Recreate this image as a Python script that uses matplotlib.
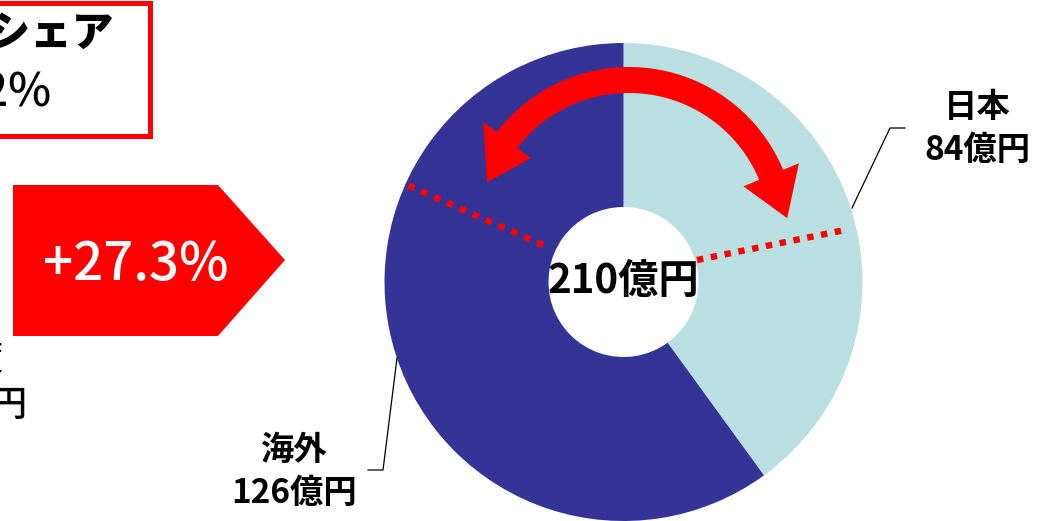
import numpy as np
import matplotlib
matplotlib.use("Agg")
import matplotlib.pyplot as plt
from matplotlib.patches import Polygon, Rectangle

# 売上構成（億円）
regions = ["日本", "海外"]
sales = [84, 126]
colors = ["#B9DFE3", "#343496"]
growth = "+27.3%"
share_title = "海外売上シェア"
share_value = "62%"
prev_lines = ["2019年度", "165億円"]

RED = "#FF0000"
W, H = 1046, 521

plt.rcParams["font.family"] = ["Noto Sans CJK JP", "DejaVu Sans"]


def Y(py):
    # 上から測った位置を下原点の座標へ
    return H - py


def P(c, r, a):
    t = np.deg2rad(a)
    return (c[0] + r * np.cos(t), c[1] + r * np.sin(t))


fig = plt.figure(figsize=(W / 100, H / 100), dpi=100)
ax = fig.add_axes([0, 0, 1, 1])

# ドーナツ
cx, cy, r_out, r_in = 623.5, Y(282), 239, 75
ax.pie(sales, colors=colors, startangle=90, counterclock=False,
       center=(cx, cy), radius=r_out,
       wedgeprops=dict(width=r_out - r_in, linewidth=0))
ax.set_xlim(0, W)
ax.set_ylim(0, H)
ax.set_aspect("auto")
ax.axis("off")

ax.text(cx, Y(281), f"{sum(sales)}億円", ha="center", va="center",
        fontsize=29, fontweight="bold", color="black")

# 赤い点線
for (x0, y0), (x1, y1) in [((697, 260), (845, 230)), ((543, 245), (407, 185))]:
    ax.plot([x0, x1], [Y(y0), Y(y1)], color=RED, lw=4.6, dashes=(1.0, 1.2))

# 両矢印の弧
ac = (629, Y(234))
R, w, hw = 154, 26, 30
a_l, a_r = 142.4, 22.6
pts = [P(ac, R - 3, 160), P(ac, R + hw, a_l), P(ac, R + w / 2, a_l)]
pts += [P(ac, R + w / 2, a) for a in np.linspace(a_l, a_r, 100)]
pts += [P(ac, R + hw, a_r), P(ac, R + 5, 5.7), P(ac, R - hw, a_r)]
pts += [P(ac, R - w / 2, a) for a in np.linspace(a_r, a_l, 100)]
pts += [P(ac, R - hw, a_l)]
ax.add_patch(Polygon(pts, closed=True, facecolor=RED, edgecolor="none"))

# 引き出し線とラベル
ax.plot([852, 890, 905], [Y(208), Y(128), Y(128)], color="black", lw=0.9)
ax.plot([397, 383, 368], [Y(358), Y(470), Y(470)], color="black", lw=0.9)
label_pos = {"日本": (977, 107, 150), "海外": (294, 450, 493)}
for name, val in zip(regions, sales):
    x, y1, y2 = label_pos[name]
    ax.text(x, Y(y1), name, ha="center", va="center", fontsize=24, fontweight="bold")
    ax.text(x, Y(y2), f"{val}億円", ha="center", va="center", fontsize=24, fontweight="bold")

# 左側：シェア枠
ax.add_patch(Rectangle((-20, Y(135.5)), 169.5, 133, facecolor="none",
                       edgecolor=RED, lw=3.6))
ax.text(113, Y(34), share_title, ha="right", va="center", fontsize=30, fontweight="black")
ax.text(52, Y(93), share_value, ha="right", va="center", fontsize=33, fontweight="medium")

# 伸び率の矢印
penta = [(13, 185), (218, 185), (285, 260), (218, 336), (13, 336)]
ax.add_patch(Polygon([(x, Y(y)) for x, y in penta], closed=True,
                     facecolor=RED, edgecolor="none"))
ax.text(136, Y(265), growth, ha="center", va="center", fontsize=38, color="white",
        fontweight="medium")

# 前年度ラベル
ax.text(4, Y(360), prev_lines[0], ha="right", va="center", fontsize=26)
ax.text(28, Y(406), prev_lines[1], ha="right", va="center", fontsize=26, fontweight="medium")

fig.savefig("out.png", dpi=100)
